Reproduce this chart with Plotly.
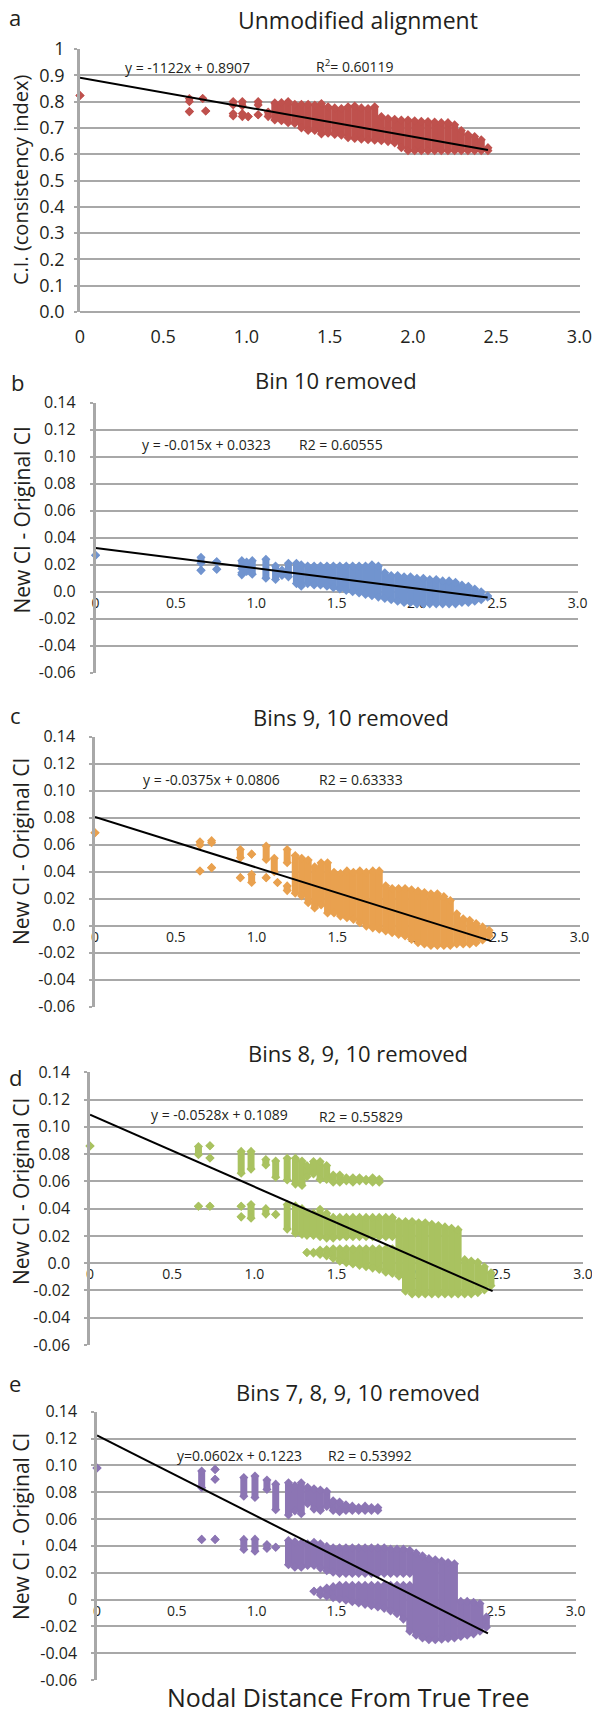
import plotly.graph_objects as go

W, H = 592, 1715

# ---------------- DATA ----------------
# Each entry is a vertical run of overlapping diamond points at one nodal distance:
# x = nodal distance, lo/hi = lowest/highest point centre in that run (lo == hi -> one point)

# a: Unmodified alignment (C.I.)
a_x = [0, 0.657, 0.657, 0.737, 0.755, 0.92, 0.92, 0.975, 0.975, 1.01, 1.07, 1.07, 1.13,
       1.17, 1.21, 1.25, 1.29, 1.33, 1.37, 1.41, 1.45, 1.49, 1.53, 1.57, 1.61, 1.65, 1.69, 1.73, 1.77,
       1.81, 1.85, 1.89, 1.93, 1.97, 2.01, 2.05, 2.09, 2.13, 2.17, 2.21, 2.25, 2.29, 2.33, 2.37, 2.41, 2.45]
a_lo = [0.823, 0.800, 0.762, 0.812, 0.764, 0.787, 0.745, 0.783, 0.743, 0.743, 0.787, 0.750, 0.743,
        0.730, 0.727, 0.720, 0.717, 0.700, 0.690, 0.690, 0.677, 0.680, 0.675, 0.672, 0.663, 0.660, 0.657, 0.655, 0.653,
        0.651, 0.648, 0.643, 0.625, 0.613, 0.613, 0.613, 0.613, 0.613, 0.613, 0.613, 0.613, 0.613, 0.613, 0.613, 0.613, 0.613]
a_hi = [0.823, 0.812, 0.762, 0.812, 0.764, 0.800, 0.755, 0.800, 0.755, 0.743, 0.800, 0.750, 0.760,
        0.795, 0.796, 0.800, 0.790, 0.790, 0.790, 0.787, 0.793, 0.780, 0.776, 0.774, 0.780, 0.783, 0.776, 0.774, 0.780,
        0.743, 0.736, 0.733, 0.730, 0.730, 0.727, 0.725, 0.724, 0.722, 0.720, 0.720, 0.712, 0.690, 0.675, 0.667, 0.655, 0.625]

# b: Bin 10 removed
b_x = [0, 0.656, 0.656, 0.754, 0.754, 0.91, 0.91, 0.94, 0.975, 1.06, 1.12, 1.16, 1.20, 1.25, 1.28,
       1.32, 1.36, 1.40, 1.44, 1.48, 1.52, 1.56, 1.60, 1.64, 1.68, 1.72, 1.76, 1.80, 1.84, 1.88,
       1.92, 1.96, 2.00, 2.04, 2.08, 2.12, 2.16, 2.20, 2.24, 2.28, 2.32, 2.36, 2.40, 2.44]
b_lo = [0.027, 0.021, 0.0158, 0.0222, 0.0166, 0.017, 0.0125, 0.015, 0.013, 0.010, 0.009, 0.012, 0.011, 0.006, 0.004,
        0.006, 0.005, 0.005, 0.004, 0.003, 0.002, 0.001, 0.0, -0.001, -0.002, -0.003, -0.004, -0.005, -0.006, -0.007,
        -0.008, -0.008, -0.009, -0.009, -0.009, -0.009, -0.009, -0.009, -0.009, -0.008, -0.008, -0.007, -0.006, -0.004]
b_hi = [0.027, 0.0255, 0.0158, 0.0222, 0.0166, 0.023, 0.014, 0.022, 0.023, 0.024, 0.019, 0.016, 0.021, 0.021, 0.020,
        0.019, 0.019, 0.019, 0.019, 0.019, 0.019, 0.019, 0.019, 0.019, 0.019, 0.020, 0.019, 0.014, 0.012, 0.012,
        0.011, 0.011, 0.010, 0.010, 0.009, 0.009, 0.008, 0.008, 0.007, 0.005, 0.004, 0.002, 0.000, -0.003]

# c: Bins 9, 10 removed
c_x = [0, 0.65, 0.65, 0.722, 0.722, 0.90, 0.90, 0.97, 0.97, 1.06, 1.06, 1.11, 1.13, 1.19, 1.19, 1.24, 1.28,
       1.32, 1.36, 1.40, 1.44, 1.48, 1.52, 1.56, 1.60, 1.64, 1.68, 1.72, 1.76, 1.80, 1.84, 1.88,
       1.92, 1.96, 2.00, 2.04, 2.08, 2.12, 2.16, 2.20, 2.24, 2.28, 2.32, 2.36, 2.40, 2.44]
c_lo = [0.0688, 0.0597, 0.0405, 0.0614, 0.043, 0.0504, 0.0356, 0.053, 0.032, 0.049, 0.0356, 0.040, 0.032, 0.0467, 0.026, 0.024, 0.022,
        0.017, 0.0132, 0.0154, 0.0094, 0.0094, 0.0071, 0.0059, 0.0047, 0.0022, -0.0003, -0.0016, -0.0026, -0.0039, -0.0052, -0.0064,
        -0.0076, -0.0101, -0.0126, -0.0136, -0.0146, -0.0146, -0.0146, -0.0146, -0.0136, -0.0136, -0.0136, -0.0126, -0.0106, -0.0076]
c_hi = [0.0688, 0.0622, 0.0405, 0.063, 0.043, 0.0565, 0.0356, 0.053, 0.038, 0.059, 0.0356, 0.050, 0.032, 0.0565, 0.0295, 0.052, 0.050,
        0.0486, 0.0436, 0.0466, 0.0466, 0.0396, 0.0386, 0.0406, 0.0396, 0.0406, 0.0396, 0.0406, 0.0406, 0.0296, 0.0276, 0.0276,
        0.0276, 0.0266, 0.0256, 0.0246, 0.0236, 0.0236, 0.0216, 0.0186, 0.0089, 0.0052, 0.0040, 0.0016, -0.0009, -0.0034]

# d: Bins 8, 9, 10 removed
d_x = [0, 0.66, 0.66, 0.73, 0.73, 0.73, 0.92, 0.92, 0.92, 0.98, 0.98, 1.07, 1.07, 1.13, 1.13, 1.20, 1.20, 1.25, 1.25, 1.29, 1.29,
       # upper band
       1.32, 1.36, 1.40, 1.44, 1.48, 1.52, 1.56, 1.60, 1.64, 1.68, 1.72, 1.76,
       # middle block
       1.32, 1.36, 1.40, 1.44, 1.48, 1.52, 1.56, 1.60, 1.64, 1.68, 1.72, 1.76, 1.80, 1.84,
       # lower band
       1.32, 1.36, 1.40, 1.44, 1.48, 1.52, 1.56, 1.60, 1.64, 1.68, 1.72, 1.76, 1.80, 1.84,
       # merged right part
       1.88, 1.92, 1.96, 2.00, 2.04, 2.08, 2.12, 2.16, 2.20, 2.24, 2.28, 2.32, 2.36, 2.40, 2.44]
d_lo = [0.086, 0.0796, 0.0418, 0.0861, 0.0771, 0.0418, 0.066, 0.0418, 0.034, 0.069, 0.033, 0.072, 0.036, 0.063, 0.0358, 0.061, 0.025, 0.058, 0.022, 0.057, 0.021,
        0.0634, 0.0654, 0.0614, 0.0614, 0.0594, 0.0594, 0.0604, 0.0594, 0.0604, 0.0604, 0.0594, 0.0594,
        0.0204, 0.0204, 0.0194, 0.0184, 0.0184, 0.0194, 0.0194, 0.0194, 0.0194, 0.0194, 0.0194, 0.0194, 0.0194, 0.0194,
        0.0078, 0.0074, 0.0064, 0.0054, 0.0034, 0.0014, 0.0004, -0.0006, -0.0016, -0.0026, -0.0036, -0.0046, -0.0066, -0.0076,
        -0.0096, -0.0206, -0.0226, -0.0226, -0.0226, -0.0226, -0.0226, -0.0226, -0.0226, -0.0226, -0.0226, -0.0226, -0.0216, -0.0196, -0.0166]
d_hi = [0.086, 0.0856, 0.0418, 0.0861, 0.0771, 0.0418, 0.082, 0.0418, 0.034, 0.082, 0.043, 0.076, 0.040, 0.075, 0.0358, 0.077, 0.043, 0.077, 0.042, 0.075, 0.040,
        0.0716, 0.0746, 0.0746, 0.0716, 0.0646, 0.0646, 0.0626, 0.0626, 0.0626, 0.0616, 0.0626, 0.0616,
        0.0366, 0.0366, 0.0396, 0.0366, 0.0336, 0.0336, 0.0336, 0.0336, 0.0336, 0.0336, 0.0336, 0.0336, 0.0336, 0.0336,
        0.0078, 0.0080, 0.0096, 0.0100, 0.0106, 0.0106, 0.0106, 0.0106, 0.0106, 0.0106, 0.0106, 0.0106, 0.0106, 0.0106,
        0.0306, 0.0306, 0.0306, 0.0296, 0.0296, 0.0286, 0.0276, 0.0266, 0.0256, 0.0246, 0.0026, 0.0016, 0.0006, -0.0027, -0.0070]

# e: Bins 7, 8, 9, 10 removed
e_x = [0, 0.656, 0.656, 0.74, 0.74, 0.74, 0.92, 0.92, 0.99, 0.99, 1.065, 1.065, 1.12, 1.12, 1.20, 1.20, 1.24, 1.24, 1.28, 1.28,
       # upper band
       1.32, 1.36, 1.40, 1.44, 1.48, 1.52, 1.56, 1.60, 1.64, 1.68, 1.72, 1.76,
       # middle block
       1.32, 1.36, 1.40, 1.44, 1.48, 1.52, 1.56, 1.60, 1.64, 1.68, 1.72, 1.76, 1.80, 1.84, 1.88, 1.92, 1.96,
       # lower band
       1.36, 1.40, 1.44, 1.48, 1.52, 1.56, 1.60, 1.64, 1.68, 1.72, 1.76, 1.80, 1.84, 1.88, 1.92, 1.96,
       # merged right part
       2.00, 2.04, 2.08, 2.12, 2.16, 2.20, 2.24, 2.28, 2.32, 2.36, 2.40, 2.44]
e_lo = [0.098, 0.0833, 0.0448, 0.097, 0.0896, 0.0448, 0.077, 0.0373, 0.076, 0.036, 0.082, 0.038, 0.067, 0.039, 0.063, 0.026, 0.066, 0.024, 0.064, 0.024,
        0.0714, 0.0674, 0.0664, 0.0694, 0.0664, 0.0654, 0.0664, 0.0664, 0.0664, 0.0664, 0.0664, 0.0664,
        0.0254, 0.0254, 0.0234, 0.0214, 0.0204, 0.0194, 0.0194, 0.0194, 0.0194, 0.0194, 0.0194, 0.0194, 0.0194, 0.0194, 0.0194, 0.0194, 0.0194,
        0.0062, 0.0034, 0.0024, 0.0014, 0.0004, -0.0006, -0.0016, -0.0026, -0.0036, -0.0046, -0.0056, -0.0066, -0.0086, -0.0106, -0.0146, -0.0236,
        -0.0266, -0.0286, -0.0300, -0.0300, -0.0296, -0.0290, -0.0286, -0.0276, -0.0266, -0.0256, -0.0236, -0.0206]
e_hi = [0.098, 0.0958, 0.0448, 0.097, 0.0896, 0.0448, 0.091, 0.0448, 0.092, 0.045, 0.089, 0.041, 0.086, 0.039, 0.087, 0.044, 0.085, 0.043, 0.087, 0.042,
        0.0836, 0.0826, 0.0816, 0.0806, 0.0736, 0.0726, 0.0706, 0.0696, 0.0686, 0.0696, 0.0686, 0.0686,
        0.0416, 0.0426, 0.0416, 0.0396, 0.0386, 0.0386, 0.0386, 0.0386, 0.0386, 0.0386, 0.0386, 0.0386, 0.0386, 0.0376, 0.0376, 0.0376, 0.0366,
        0.0062, 0.0070, 0.0086, 0.0096, 0.0106, 0.0106, 0.0106, 0.0106, 0.0106, 0.0106, 0.0106, 0.0106, 0.0106, 0.0106, 0.0106, 0.0106,
        0.0346, 0.0326, 0.0306, 0.0296, 0.0286, 0.0276, 0.0266, -0.0014, -0.0014, -0.0020, -0.0030, -0.0130]

# Linear trendlines (slope, intercept, last x) and their printed labels
fits = {
    "a": (-0.1122, 0.8907, 2.45),
    "b": (-0.015, 0.0323, 2.44),
    "c": (-0.0375, 0.0806, 2.45),
    "d": (-0.0528, 0.1089, 2.45),
    "e": (-0.0602, 0.1223, 2.45),
}
eq_text = {
    "a": "y = -1122x + 0.8907",
    "b": "y = -0.015x + 0.0323",
    "c": "y = -0.0375x + 0.0806",
    "d": "y = -0.0528x + 0.1089",
    "e": "y=0.0602x + 0.1223",
}
r2_text = {
    "a": "R<sup>2</sup>= 0.60119",
    "b": "R2 = 0.60555",
    "c": "R2 = 0.63333",
    "d": "R2 = 0.55829",
    "e": "R2 = 0.53992",
}
titles = {
    "a": "Unmodified alignment",
    "b": "Bin 10 removed",
    "c": "Bins 9, 10 removed",
    "d": "Bins 8, 9, 10 removed",
    "e": "Bins 7, 8, 9, 10 removed",
}

x_tickvals = [0, 0.5, 1.0, 1.5, 2.0, 2.5, 3.0]
x_ticktext = ["0", "0.5", "1.0", "1.5", "2.0", "2.5", "3.0"]
a_tickvals = [0, 0.1, 0.2, 0.3, 0.4, 0.5, 0.6, 0.7, 0.8, 0.9, 1.0]
a_ticktext = ["0.0", "0.1", "0.2", "0.3", "0.4", "0.5", "0.6", "0.7", "0.8", "0.9", "1"]
d_tickvals = [-0.06, -0.04, -0.02, 0.0, 0.02, 0.04, 0.06, 0.08, 0.10, 0.12, 0.14]
d_ticktext = ["-0.06", "-0.04", "-0.02", "0.0", "0.02", "0.04", "0.06", "0.08", "0.10", "0.12", "0.14"]
e_ticktext = ["-0.06", "-0.04", "-0.02", "0", "0.02", "0.04", "0.06", "0.08", "0.10", "0.12", "0.14"]

colors = {"a": "#BF514D", "b": "#7194CF", "c": "#E9A14F", "d": "#A9C260", "e": "#8C75B4"}

# ---------------- LAYOUT (pixel geometry of each panel) ----------------
TXT = "#231F20"
GRID = "#A8A8A8"
FONT = "Open Sans"

panels = [
    dict(k="a", x=a_x, lo=a_lo, hi=a_hi, px=(80, 579.5, 49, 312), yr=(0, 1),
         tv=a_tickvals, tt=a_ticktext, let=(15, 17), tit=(358, 20), yt=(21, 180), eq=(187, 67), r2=(355, 66),
         ytitle="C.I. (consistency index)"),
    dict(k="b", x=b_x, lo=b_lo, hi=b_hi, px=(95.6, 577.6, 402.7, 672.7), yr=(-0.06, 0.14),
         tv=d_tickvals, tt=d_ticktext, let=(17, 382), tit=(336, 380), yt=(21.5, 520), eq=(206, 444), r2=(341, 444),
         ytitle="New CI - Original CI"),
    dict(k="c", x=c_x, lo=c_lo, hi=c_hi, px=(95, 579.5, 736.7, 1006.7), yr=(-0.06, 0.14),
         tv=d_tickvals, tt=d_ticktext, let=(15, 715), tit=(351, 717), yt=(21, 852), eq=(211, 779), r2=(361, 779),
         ytitle="New CI - Original CI"),
    dict(k="d", x=d_x, lo=d_lo, hi=d_hi, px=(90, 583, 1072.3, 1345), yr=(-0.06, 0.14),
         tv=d_tickvals, tt=d_ticktext, let=(15, 1077), tit=(358, 1053), yt=(21, 1192), eq=(219, 1114), r2=(361, 1116),
         ytitle="New CI - Original CI"),
    dict(k="e", x=e_x, lo=e_lo, hi=e_hi, px=(97, 575.7, 1411.7, 1680), yr=(-0.06, 0.14),
         tv=d_tickvals, tt=e_ticktext, let=(15, 1383), tit=(358, 1392), yt=(21, 1527), eq=(239, 1455), r2=(370, 1455),
         ytitle="New CI - Original CI"),
]

fig = go.Figure()
layout = dict(width=W, height=H, margin=dict(l=0, r=0, t=0, b=0, pad=0), autosize=False,
              paper_bgcolor="white", plot_bgcolor="white", showlegend=False,
              font=dict(family=FONT, color=TXT))
annotations = []


def px2paper(x, y):
    return x / W, 1 - y / H


def note(pos, text, size, angle=0):
    x, y = px2paper(*pos)
    return dict(x=x, y=y, xref="paper", yref="paper", text=text, textangle=angle, showarrow=False,
                xanchor="center", yanchor="middle", font=dict(size=size, color=TXT, family=FONT))


for i, p in enumerate(panels, start=1):
    k = p["k"]
    assert len(p["x"]) == len(p["lo"]) == len(p["hi"]), k
    xs, ys = [], []
    for xv, lo, hi in zip(p["x"], p["lo"], p["hi"]):
        xs += [xv, xv, None]
        ys += [lo, hi, None]
    xa = "x" if i == 1 else f"x{i}"
    ya = "y" if i == 1 else f"y{i}"
    fig.add_trace(go.Scatter(
        x=xs, y=ys, mode="lines+markers", xaxis=xa, yaxis=ya, hoverinfo="skip",
        line=dict(color=colors[k], width=7),
        marker=dict(symbol="diamond", size=7, color=colors[k], line=dict(width=0)),
        cliponaxis=False))
    m, b0, xe = fits[k]
    fig.add_trace(go.Scatter(x=[0, xe], y=[b0, m * xe + b0], mode="lines", xaxis=xa, yaxis=ya,
                             line=dict(color="black", width=2), hoverinfo="skip"))

    l, r, t, btm = p["px"]
    xd = [l / W, r / W]
    yd = [1 - btm / H, 1 - t / H]
    y0, y1 = p["yr"]
    small = k != "a"
    xkey = "xaxis" if i == 1 else f"xaxis{i}"
    ykey = "yaxis" if i == 1 else f"yaxis{i}"
    xaxis = dict(domain=xd, range=[0, 3], showgrid=False, zeroline=False, showline=False, automargin=False,
                 tickvals=x_tickvals, ticktext=x_ticktext, ticklabeloverflow="allow",
                 tickfont=dict(size=14 if small else 18, color=TXT, family=FONT))
    if small:
        pos = yd[0] + (0 - y0) / (y1 - y0) * (yd[1] - yd[0])
        xaxis.update(anchor="free", position=pos, ticks="", layer="below traces", ticklabelstandoff=1)
    else:
        xaxis.update(anchor=ya, ticks="outside", ticklen=8, tickcolor="rgba(0,0,0,0)")
    yaxis = dict(domain=yd, range=[y0, y1], anchor=xa, tickvals=p["tv"], ticktext=p["tt"], automargin=False,
                 showgrid=True, gridcolor=GRID, gridwidth=2, ticklabeloverflow="allow",
                 zeroline=True, zerolinecolor=GRID, zerolinewidth=2,
                 showline=True, linecolor=GRID, linewidth=2.5,
                 ticks="outside", ticklen=3, tickcolor=GRID, tickwidth=2,
                 ticklabelstandoff=11 if small else 6,
                 tickfont=dict(size=16 if small else 18, color=TXT, family=FONT))
    layout[xkey] = xaxis
    layout[ykey] = yaxis

    annotations.append(note(p["let"], k, 22))
    annotations.append(note(p["tit"], titles[k], 23 if k == "a" else 22))
    annotations.append(note(p["yt"], p["ytitle"], 20 if k == "a" else 21, angle=-90))
    annotations.append(note(p["eq"], eq_text[k], 14))
    annotations.append(note(p["r2"], r2_text[k], 14))

annotations.append(note((348, 1697), "Nodal Distance From True Tree", 25))

layout["annotations"] = annotations
fig.update_layout(**layout)
fig.write_html("out.html", config={"displayModeBar": False},
               post_script="document.body.style.margin='0';")
